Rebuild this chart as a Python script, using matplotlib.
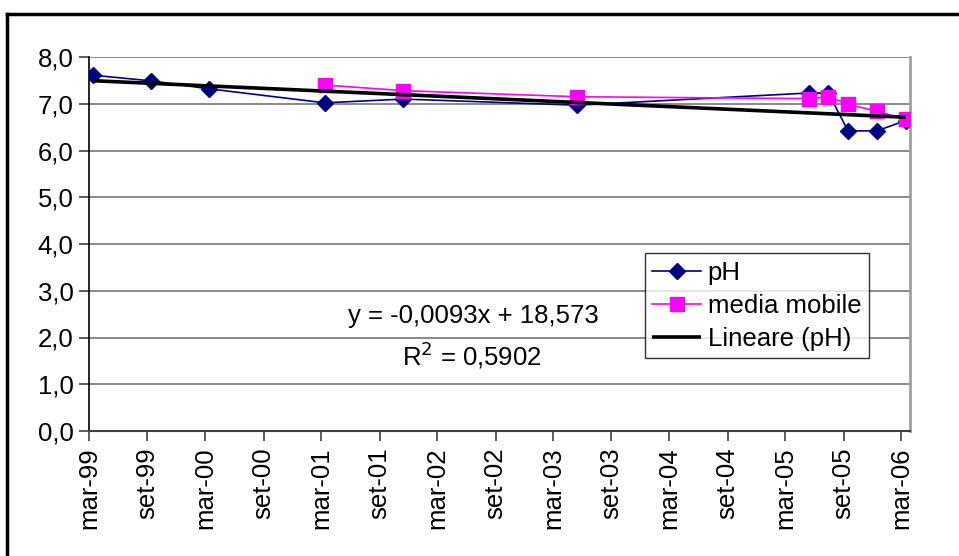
import datetime as dt

import matplotlib
matplotlib.use("Agg")
import matplotlib.dates as mdates
import matplotlib.pyplot as plt
from matplotlib.lines import Line2D
from matplotlib.ticker import FuncFormatter

plt.rcParams["font.family"] = ["Liberation Sans", "DejaVu Sans"]

# sampling dates and measured pH
ph_dates = ["1999-03-15", "1999-09-12", "2000-03-12", "2001-03-12",
            "2001-11-15", "2003-05-15", "2005-05-15", "2005-07-15",
            "2005-09-15", "2005-12-15", "2006-03-15"]
ph_values = [7.61, 7.49, 7.32, 7.02, 7.10, 6.97, 7.23, 7.23, 6.42, 6.42, 6.64]

# moving average series
mm_dates = ["2001-03-12", "2001-11-15", "2003-05-15", "2005-05-15",
            "2005-07-15", "2005-09-15", "2005-12-15", "2006-03-15"]
mm_values = [7.40, 7.28, 7.15, 7.11, 7.15, 6.99, 6.84, 6.67]

# linear trend of pH (x counted in months from 1900)
trend_slope = -0.0093
trend_intercept = 18.573
r_squared = 0.5902

tick_dates = ["1999-03-01", "1999-09-01", "2000-03-01", "2000-09-01",
              "2001-03-01", "2001-09-01", "2002-03-01", "2002-09-01",
              "2003-03-01", "2003-09-01", "2004-03-01", "2004-09-01",
              "2005-03-01", "2005-09-01", "2006-03-01"]
tick_labels = ["mar-99", "set-99", "mar-00", "set-00", "mar-01", "set-01",
               "mar-02", "set-02", "mar-03", "set-03", "mar-04", "set-04",
               "mar-05", "set-05", "mar-06"]


def to_date(s):
    return dt.date.fromisoformat(s)


def month_index(d):
    return (d.year - 1900) * 12 + d.month + (d.day - 1) / 31


ph_d = [to_date(s) for s in ph_dates]
mm_d = [to_date(s) for s in mm_dates]
trend_d = [ph_d[0], ph_d[-1]]
trend_y = [trend_slope * month_index(d) + trend_intercept for d in trend_d]

W, H = 959, 556
fig = plt.figure(figsize=(W / 100, H / 100), dpi=100)
x0, x1, y0, y1 = 89, 910, 57, 431
ax = fig.add_axes([x0 / W, 1 - y1 / H, (x1 - x0) / W, (y1 - y0) / H])

fs = 18.5

ax.plot(ph_d, ph_values, color="#000080", lw=1.2, marker="D", ms=8.5,
        label="pH", zorder=4)
ax.plot(mm_d, mm_values, color="#FF00FF", lw=1.2, marker="s", ms=10,
        label="media mobile", zorder=5)
ax.plot(trend_d, trend_y, color="black", lw=2.6, label="Lineare (pH)",
        zorder=6, solid_capstyle="butt")

ax.set_ylim(0, 8)
ax.set_yticks(range(0, 9))
ax.yaxis.set_major_formatter(FuncFormatter(lambda v, p: f"{v:.1f}".replace(".", ",")))
ax.set_xlim(to_date("1999-03-01"), to_date("2006-03-29"))
ax.set_xticks([mdates.date2num(to_date(s)) for s in tick_dates])
ax.set_xticklabels(tick_labels, rotation=90)

ax.grid(axis="y", color="#808080", lw=1.3)
ax.set_axisbelow(True)
ax.tick_params(axis="both", labelsize=fs, direction="out", length=7,
               width=1.2, color="#404040")
ax.tick_params(axis="x", pad=5)
ax.tick_params(axis="y", pad=4)

ax.spines["top"].set_visible(False)
ax.spines["right"].set_color("#a0a0a0")
ax.spines["right"].set_linewidth(2)
ax.spines["left"].set_color("black")
ax.spines["left"].set_linewidth(1.2)
ax.spines["bottom"].set_color("#404040")
ax.spines["bottom"].set_linewidth(1.5)

leg = ax.legend(loc="upper right",
                bbox_to_anchor=((869 - x0) / (x1 - x0), 1 - (253 - y0) / (y1 - y0)),
                fontsize=fs, frameon=True, fancybox=False, edgecolor="black",
                borderaxespad=0, handlelength=1.9, handletextpad=0.25,
                borderpad=0.3, labelspacing=0.35)
leg.get_frame().set_linewidth(1.0)

eq = f"y = {trend_slope:.4f}x + {trend_intercept:.3f}".replace(".", ",")
ax.text(0.468, 0.308, eq, transform=ax.transAxes, fontsize=fs,
        ha="center", va="center")
ax.text(0.466, 0.203, f"R$^2$ = {r_squared:.4f}".replace(".", ","),
        transform=ax.transAxes, fontsize=fs, ha="center", va="center")

# surrounding frame of the chart object
fig.add_artist(Line2D([7 / W, 1.0], [1 - 14 / H, 1 - 14 / H],
                      color="black", lw=2.5, transform=fig.transFigure))
fig.add_artist(Line2D([7 / W, 7 / W], [0, 1 - 14 / H],
                      color="black", lw=2.5, transform=fig.transFigure))

fig.savefig("out.png", dpi=100)
